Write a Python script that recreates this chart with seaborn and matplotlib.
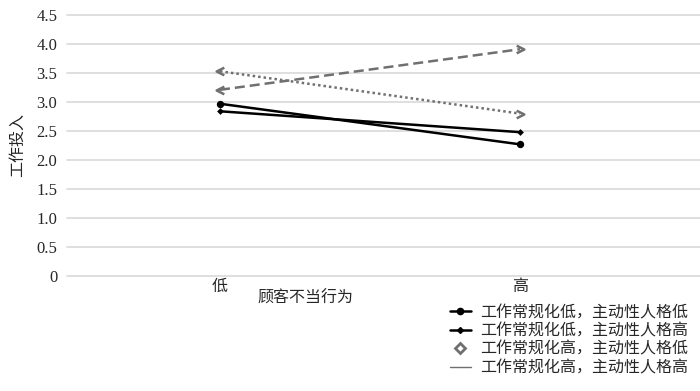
import matplotlib
matplotlib.use("Agg")
import matplotlib.pyplot as plt
import seaborn as sns
import pandas as pd
from matplotlib.path import Path
from matplotlib.lines import Line2D

categories = ["低", "高"]
series_names = ["工作常规化低，主动性人格低", "工作常规化低，主动性人格高",
                "工作常规化高，主动性人格低", "工作常规化高，主动性人格高"]
s1 = [2.97, 2.27]
s2 = [2.84, 2.48]
s3 = [3.21, 3.91]
s4 = [3.53, 2.80]
yticks = [0, 0.5, 1.0, 1.5, 2.0, 2.5, 3.0, 3.5, 4.0, 4.5]
ytick_labels = ["0", "0.5", "1.0", "1.5", "2.0", "2.5", "3.0", "3.5", "4.0", "4.5"]

sns.set_theme(style="white")
plt.rcParams["font.family"] = ["Liberation Serif", "Noto Sans CJK SC"]

fig = plt.figure(figsize=(7, 3.91), dpi=100)
ax = fig.add_axes([67/700, (391-276)/391, 633/700, 261/391])

x = list(range(len(categories)))
df = pd.DataFrame({"x": x * 4,
                   "y": s1 + s2 + s3 + s4,
                   "s": [n for n in series_names for _ in x]})

styles = {
    series_names[0]: dict(color="black", lw=1.8, ls="-"),
    series_names[1]: dict(color="black", lw=1.8, ls="-"),
    series_names[2]: dict(color="#707070", lw=1.8, ls=(0, (4, 2))),
    series_names[3]: dict(color="#707070", lw=1.8, ls=(0, (1, 1.2))),
}
for name in series_names:
    sub = df[df.s == name]
    st = styles[name]
    sns.lineplot(data=sub, x="x", y="y", ax=ax, color=st["color"],
                 linewidth=st["lw"], linestyle=st["ls"], legend=False, zorder=3)

# end markers
sns.scatterplot(x=x, y=s1, ax=ax, color="black", marker="o", s=28, linewidth=0, zorder=4)
sns.scatterplot(x=x, y=s2, ax=ax, color="black", marker="D", s=12, linewidth=0, zorder=4)

left_chev = Path([(1, 1), (-1, 0), (1, -1)], [Path.MOVETO, Path.LINETO, Path.LINETO])
right_chev = Path([(-1, 1), (1, 0), (-1, -1)], [Path.MOVETO, Path.LINETO, Path.LINETO])
for ys in (s3, s4):
    ax.plot([x[0]], [ys[0]], marker=left_chev, ms=5.5, mfc="none", mec="#707070", mew=1.8,
            ls="none", zorder=4)
    ax.plot([x[1]], [ys[1]], marker=right_chev, ms=5.5, mfc="none", mec="#707070", mew=1.8,
            ls="none", zorder=4)

ax.set_xlim(-0.51, 1.6)
ax.set_ylim(0, 4.5)
ax.set_yticks(yticks)
ax.set_yticklabels(ytick_labels, fontsize=12)
ax.set_xticks(x)
ax.set_xticklabels(categories, fontsize=11.5)
ax.tick_params(axis="y", length=0, pad=7)
ax.tick_params(axis="x", length=0, pad=2)
ax.yaxis.grid(True, color="#d9d9d9", lw=1.2, zorder=0)
for gl in ax.get_ygridlines():
    gl.set_clip_on(False)
ax.xaxis.grid(False)
for sp in ax.spines.values():
    sp.set_visible(False)
ax.set_xlabel("")
ax.set_ylabel("")

fig.text(18/700, 1-145/391, "工作投入", rotation=90, ha="center", va="center", fontsize=11.5)
fig.text(305/700, 1-299/391, "顾客不当行为", ha="center", va="center", fontsize=11.5)

handles = [
    Line2D([], [], color="black", lw=1.8, marker="o", ms=4.5, markevery=[0, -1]),
    Line2D([], [], color="black", lw=1.8, marker="D", ms=3, markevery=[0, -1]),
    Line2D([], [], color="#707070", lw=0, marker="D", ms=5, mfc="white", mec="#707070", mew=2),
    Line2D([], [], color="#707070", lw=1.0),
]
fig.legend(handles, series_names, loc="upper left",
           bbox_to_anchor=(450/700, 1-305/391), frameon=False, fontsize=11.5,
           handlelength=1.3, handletextpad=0.6, labelspacing=0.15,
           borderpad=0, borderaxespad=0)

fig.savefig("out.png", dpi=100)
